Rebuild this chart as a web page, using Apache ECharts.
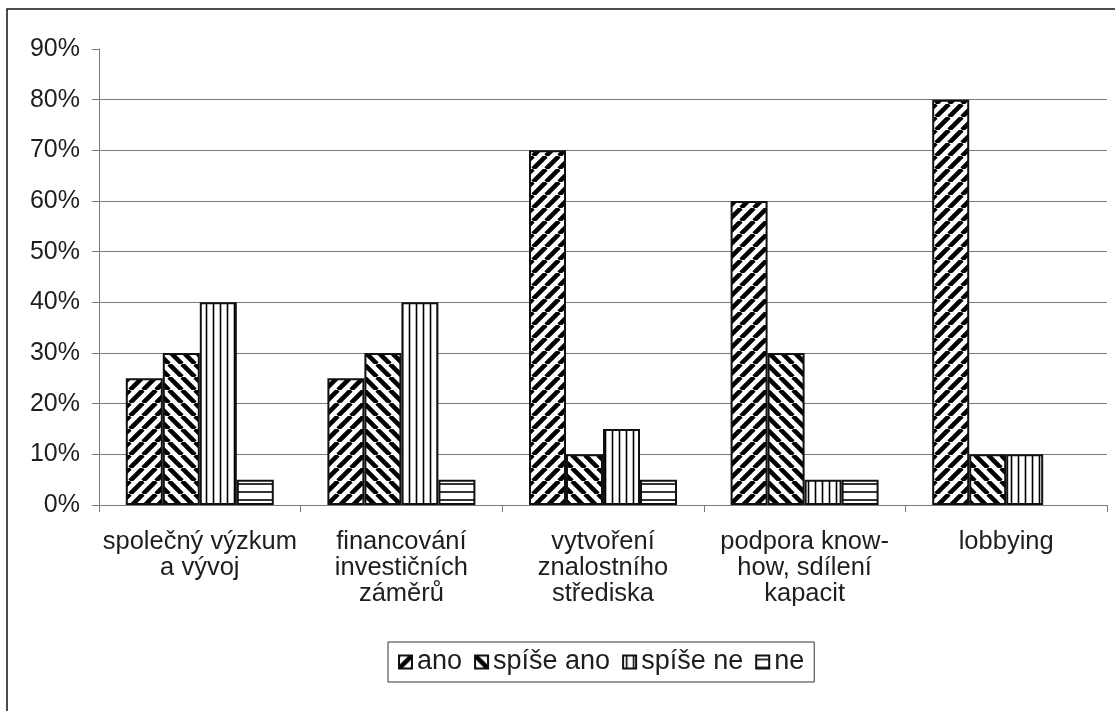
<!DOCTYPE html>
<html>
<head>
<meta charset="utf-8">
<script src="https://cdn.jsdelivr.net/npm/echarts@6/dist/echarts.min.js"></script>
<style>
  html, body { margin: 0; padding: 0; background: #fff; }
  #chart { width: 1115px; height: 711px; }
</style>
</head>
<body>
<div id="chart"></div>
<script>
// Categories (line breaks as they appear under the axis)
const categories = [
  'společný výzkum\na vývoj',
  'financování\ninvestičních\nzáměrů',
  'vytvoření\nznalostního\nstřediska',
  'podpora know-\nhow, sdílení\nkapacit',
  'lobbying'
];

// Share of answers per category, in percent
const seriesNames = ['ano', 'spíše ano', 'spíše ne', 'ne'];
const ano      = [25, 25, 70, 60, 80];
const spiseAno = [30, 30, 10, 30, 10];
const spiseNe  = [40, 40, 15, 5, 10];
const ne       = [5, 5, 5, 5, 0];

const yTicks = [0, 10, 20, 30, 40, 50, 60, 70, 80, 90];

// Black-and-white hatch fills
function hatch(kind) {
  const n = kind === 'fwd' ? 13 : kind === 'back' ? 13 : kind === 'vert' ? 7 : 8;
  const c = document.createElement('canvas');
  c.width = n; c.height = n;
  const g = c.getContext('2d');
  g.fillStyle = '#fff';
  g.fillRect(0, 0, n, n);
  g.strokeStyle = '#000';
  g.beginPath();
  if (kind === 'fwd') {
    g.lineWidth = 4.6;
    for (let k = -1; k <= 1; k++) { g.moveTo(k * n, n); g.lineTo(k * n + n, 0); }
  } else if (kind === 'back') {
    g.lineWidth = 4.6;
    for (let k = -1; k <= 1; k++) { g.moveTo(k * n, 0); g.lineTo(k * n + n, n); }
  } else if (kind === 'vert') {
    g.lineWidth = 1.6;
    g.moveTo(n / 2, 0); g.lineTo(n / 2, n);
  } else {
    g.lineWidth = 1.6;
    g.moveTo(0, n / 2); g.lineTo(n, n / 2);
  }
  g.stroke();
  return { image: c, repeat: 'repeat' };
}

const fills = [hatch('fwd'), hatch('back'), hatch('vert'), hatch('horiz')];
const values = [ano, spiseAno, spiseNe, ne];

const FONT = '"Liberation Sans", Arial, sans-serif';
const TEXT = '#1e1e1e';
const AXIS = '#7a7a7a';

const chart = echarts.init(document.getElementById('chart'), null, { renderer: 'canvas' });

chart.setOption({
  animation: false,
  backgroundColor: '#fff',
  graphic: [{
    type: 'rect',
    shape: { x: 7, y: 9, width: 1200, height: 800 },
    style: { fill: 'none', stroke: '#111', lineWidth: 1.5 },
    silent: true,
    z: 0
  }],
  grid: { left: 99, right: 8, top: 49, bottom: 206, containLabel: false },
  legend: {
    data: seriesNames,
    left: 388,
    top: 642,
    icon: 'rect',
    itemWidth: 13,
    itemHeight: 13,
    itemGap: 12,
    padding: [6, 10, 6, 10],
    borderColor: '#333',
    borderWidth: 1,
    textStyle: { fontFamily: FONT, fontSize: 27, lineHeight: 28, color: TEXT }
  },
  xAxis: {
    type: 'category',
    data: categories,
    boundaryGap: true,
    axisLine: { lineStyle: { color: AXIS, width: 1 } },
    axisTick: { show: true, length: 7, alignWithLabel: false, lineStyle: { color: AXIS } },
    axisLabel: {
      interval: 0,
      margin: 24,
      fontFamily: FONT,
      fontSize: 25.5,
      lineHeight: 26,
      color: TEXT,
      align: 'center'
    }
  },
  yAxis: {
    type: 'value',
    min: yTicks[0],
    max: yTicks[yTicks.length - 1],
    interval: 10,
    axisLine: { show: true, lineStyle: { color: AXIS, width: 1 } },
    axisTick: { show: true, length: 7, lineStyle: { color: AXIS } },
    axisLabel: {
      margin: 19,
      fontFamily: FONT,
      fontSize: 25,
      color: TEXT,
      formatter: v => v + '%'
    },
    splitLine: {
      show: true,
      lineStyle: {
        color: yTicks.map((t, i) => i === yTicks.length - 1 ? 'rgba(0,0,0,0)' : AXIS),
        width: 1
      }
    }
  },
  series: seriesNames.map((name, i) => ({
    name,
    type: 'bar',
    // a zero share draws no bar outline
    data: values[i].map(v => v === 0 ? { value: v, itemStyle: { borderWidth: 0 } } : v),
    barWidth: 37,
    barGap: '0%',
    itemStyle: { color: fills[i], borderColor: '#111', borderWidth: 2 },
    emphasis: { disabled: true }
  }))
});
</script>
</body>
</html>
